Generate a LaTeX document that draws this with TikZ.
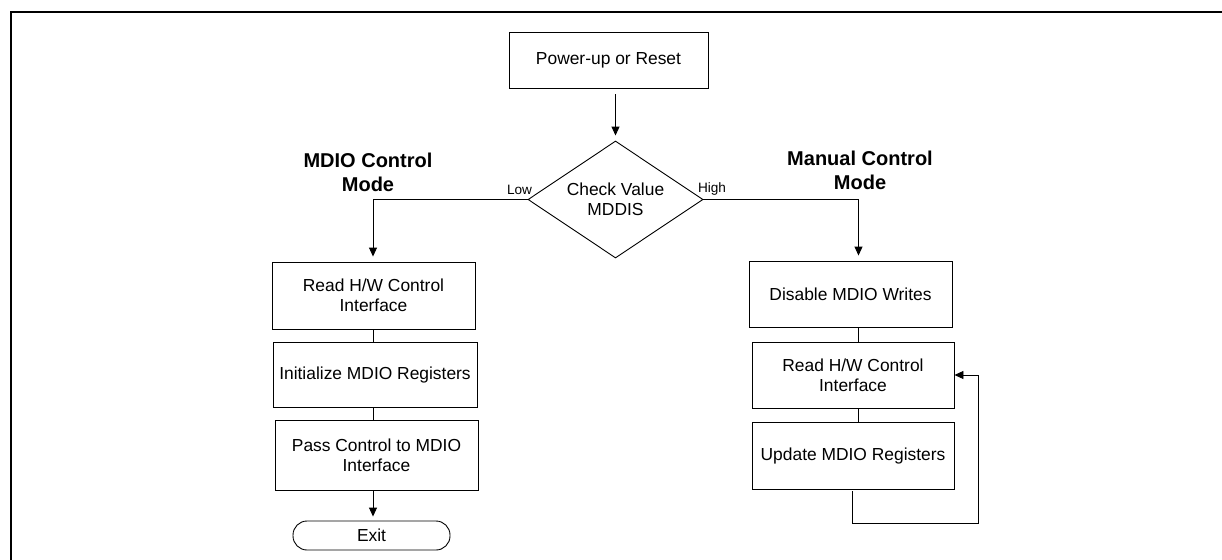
\documentclass[tikz,border=0pt]{standalone}
\usepackage{fontspec}
\setmainfont{Liberation Sans}
\usetikzlibrary{arrows.meta,shapes.geometric}
\begin{document}
\begin{tikzpicture}[x=1pt,y=-1pt,
  box/.style={draw=black,line width=0.9pt,rectangle,inner sep=0pt,align=center,
    font=\fontsize{17.4}{20}\selectfont},
  dec/.style={draw=black,line width=0.9pt,diamond,aspect=1.5,inner sep=0pt,align=center,
    minimum width=175pt,minimum height=117pt,font=\fontsize{17.4}{20}\selectfont},
  term/.style={draw=black,line width=0.9pt,rectangle,rounded corners=14pt,inner sep=0pt,
    minimum width=157pt,minimum height=29pt,font=\fontsize{17.4}{20}\selectfont},
  heading/.style={align=center,font=\fontsize{20}{24}\selectfont\bfseries},
  lbl/.style={inner sep=0pt,font=\fontsize{13.6}{15}\selectfont},
  conn/.style={draw=black,line width=0.9pt},
  arr/.style={conn,-{Triangle[length=9pt,width=8pt]}}]
\useasboundingbox (0,0) rectangle (1222,559);
\draw[line width=2.4pt] (11,560) -- (11,12) -- (1223,12);

\node[box,minimum width=199pt,minimum height=56pt] (pwr) at (608.5,60) {Power-up or Reset};
\node[dec] (dia) at (615.5,199.5) {Check Value\\MDDIS};
\node[lbl] (low) at (519.5,190) {Low};
\node[lbl] (high) at (712,189) {High};
\node[heading] (hl) at (368,172) {MDIO Control\\Mode};
\node[heading] (hr) at (860,170.5) {Manual Control\\Mode};

\node[box,minimum width=203pt,minimum height=67pt] (lb1) at (373.5,295.5) {Read H/W Control\\Interface};
\node[box,minimum width=204pt,minimum height=65pt] (lb2) at (375,374.5) {Initialize MDIO Registers};
\node[box,minimum width=203pt,minimum height=70pt] (lb3) at (376.5,455) {Pass Control to MDIO\\Interface};
\node[term] (exit) at (371.5,535.5) {Exit};

\node[box,minimum width=203pt,minimum height=66pt] (rb1) at (850.5,294) {Disable MDIO Writes};
\node[box,minimum width=202pt,minimum height=66pt] (rb2) at (853,375) {Read H/W Control\\Interface};
\node[box,minimum width=202pt,minimum height=67pt] (rb3) at (853,455.5) {Update MDIO Registers};

\coordinate (lcol) at (373,0);
\coordinate (rcol) at (858.5,0);
\coordinate (loop) at (978,523);

\draw[arr,shorten <=6pt,shorten >=5pt] (pwr.south -| dia.north) -- (dia.north);
\draw[arr,shorten >=5pt] (dia.west) -| (lcol |- lb1.north);
\draw[arr,shorten >=5pt] (dia.east) -| (rcol |- rb1.north);
\draw[conn] (lcol |- lb1.south) -- (lcol |- lb2.north);
\draw[conn] (lcol |- lb2.south) -- (lcol |- lb3.north);
\draw[arr,shorten >=4pt] (lcol |- lb3.south) -- (lcol |- exit.north);
\draw[conn] (rcol |- rb1.south) -- (rcol |- rb2.north);
\draw[conn] (rcol |- rb2.south) -- (rcol |- rb3.north);
\draw[arr,shorten <=2pt] ([xshift=-1pt]rb3.south) |- (loop) |- (rb2.east);
\end{tikzpicture}
\end{document}
